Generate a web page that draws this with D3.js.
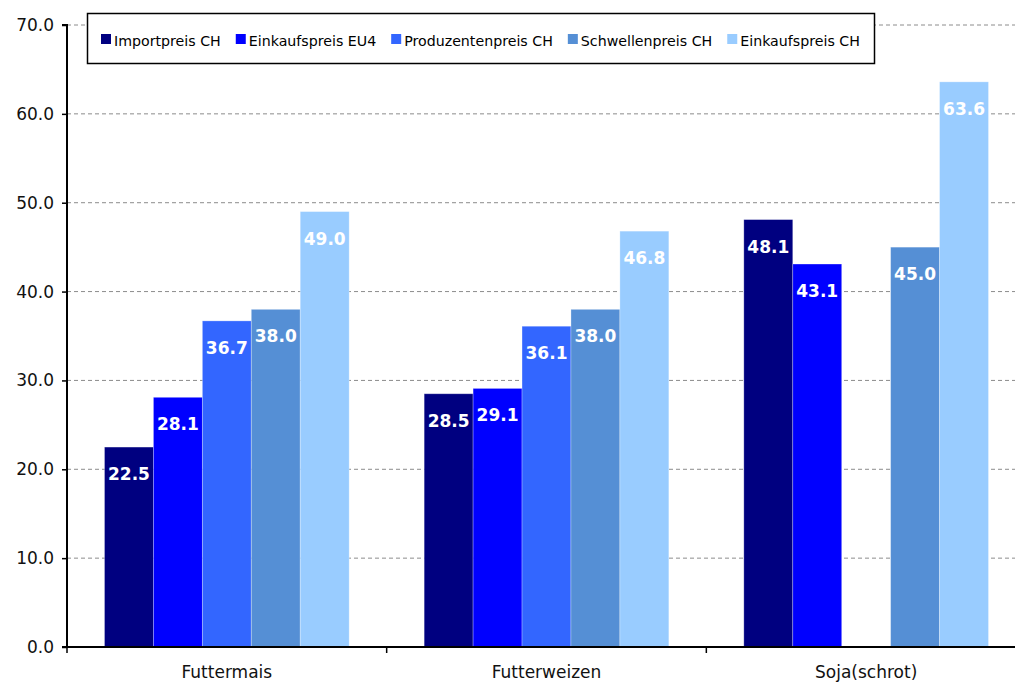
<!DOCTYPE html>
<html><head><meta charset="utf-8">
<script src="https://cdn.jsdelivr.net/npm/d3@7"></script>
<style>body{margin:0;background:#fff}svg{display:block}text{font-family:"DejaVu Sans",Verdana,sans-serif}</style>
</head><body><svg id="c" width="1015" height="682"></svg>
<script>
const categories = ["Futtermais", "Futterweizen", "Soja(schrot)"];
const seriesNames = ["Importpreis CH", "Einkaufspreis EU4", "Produzentenpreis CH", "Schwellenpreis CH", "Einkaufspreis CH"];
const importpreisCH = [22.5, 28.5, 48.1];
const einkaufspreisEU4 = [28.1, 29.1, 43.1];
const produzentenpreisCH = [36.7, 36.1, null];
const schwellenpreisCH = [38.0, 38.0, 45.0];
const einkaufspreisCH = [49.0, 46.8, 63.6];
const yTicks = [0, 10, 20, 30, 40, 50, 60, 70];
const colors = ["#000080", "#0000FF", "#3366FF", "#558FD5", "#99CCFF"];
const seriesValues = [importpreisCH, einkaufspreisEU4, produzentenpreisCH, schwellenpreisCH, einkaufspreisCH];

const svg = d3.select("#c");
const pLeft = 67, pRight = 1026, pTop = 25, pBottom = 647;
const y = d3.scaleLinear().domain([0, 70]).range([pBottom, pTop]);
const x0 = d3.scaleBand().domain(categories).range([pLeft, pRight]).paddingInner(0).paddingOuter(0);
const x1 = d3.scaleBand().domain(seriesNames).range([37.5, x0.bandwidth() - 37.5]);

// gridlines
svg.append("g").selectAll("line").data(yTicks.filter(t => t > 0)).join("line")
  .attr("x1", pLeft).attr("x2", 1015).attr("y1", d => y(d)).attr("y2", d => y(d))
  .attr("stroke", "#8c8c8c").attr("stroke-width", 1).attr("stroke-dasharray", "4,3");

// bars
const data = [];
categories.forEach((c, i) => seriesNames.forEach((s, j) => {
  const v = seriesValues[j][i];
  if (v != null) data.push({c, s, v, color: colors[j]});
}));
const g = svg.append("g");
g.selectAll("rect").data(data).join("rect")
  .attr("x", d => x0(d.c) + x1(d.s)).attr("width", x1.bandwidth())
  .attr("y", d => y(d.v)).attr("height", d => y(0) - y(d.v))
  .attr("fill", d => d.color).attr("stroke", "rgba(255,255,255,0.35)").attr("stroke-width", 0.8);
g.selectAll("text").data(data).join("text")
  .attr("x", d => x0(d.c) + x1(d.s) + x1.bandwidth() / 2).attr("y", d => y(d.v) + 33)
  .attr("text-anchor", "middle").attr("fill", "#fff").attr("font-weight", "bold").attr("font-size", 17)
  .text(d => d.v.toFixed(1));

// y axis
const yAxis = d3.axisLeft(y).tickValues(yTicks).tickFormat(d => d.toFixed(1)).tickSize(5).tickPadding(8);
const ya = svg.append("g").attr("transform", `translate(${pLeft},0)`).call(yAxis);
ya.select(".domain").attr("stroke", "#000").attr("stroke-width", 2).attr("d", `M-5,${pTop}H0V${pBottom}`);
ya.selectAll(".tick line").attr("stroke", "#000").attr("stroke-width", 1.5);
ya.selectAll(".tick text").attr("font-size", 17).attr("fill", "#111").attr("font-family", "DejaVu Sans");

// x axis
const xa = svg.append("g").attr("transform", `translate(0,${pBottom})`);
xa.append("line").attr("x1", pLeft - 5).attr("x2", 1015).attr("y1", 0).attr("y2", 0).attr("stroke", "#000").attr("stroke-width", 2);
xa.selectAll("line.t").data(categories.map(c => x0(c)).concat([pRight])).join("line").attr("class", "t")
  .attr("x1", d => d).attr("x2", d => d).attr("y1", 0).attr("y2", 6).attr("stroke", "#000").attr("stroke-width", 1.5);
xa.selectAll("text").data(categories).join("text")
  .attr("x", d => x0(d) + x0.bandwidth() / 2).attr("y", 31).attr("text-anchor", "middle")
  .attr("font-size", 17).attr("fill", "#111").text(d => d);

// legend
const lg = svg.append("g");
lg.append("rect").attr("x", 87.5).attr("y", 13.5).attr("width", 787).attr("height", 50)
  .attr("fill", "#fff").attr("stroke", "#000").attr("stroke-width", 1.5);
let lx = 101;
seriesNames.forEach((s, j) => {
  lg.append("rect").attr("x", lx).attr("y", 34).attr("width", 10).attr("height", 10).attr("fill", colors[j]);
  const t = lg.append("text").attr("x", lx + 13).attr("y", 45.5).attr("font-size", 14.2).attr("fill", "#000").text(s);
  lx += 13 + t.node().getComputedTextLength() + 15;
});
</script></body></html>
